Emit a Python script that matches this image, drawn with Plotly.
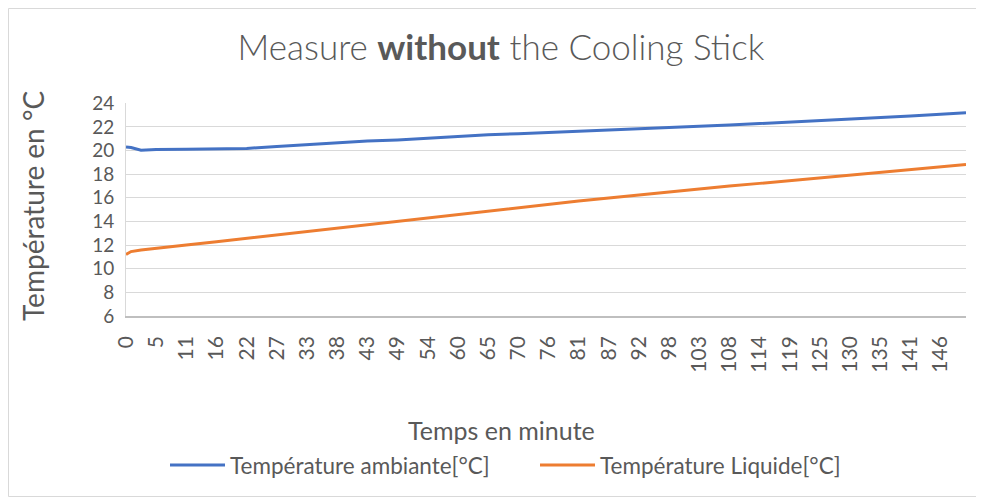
import plotly.graph_objects as go

# ---- data ----
time_min = [0, 0.9, 2.7, 5.42, 10.83, 16.25, 21.67, 27.08, 32.5, 37.92, 43.33, 48.75,
            54.17, 59.58, 65.0, 70.42, 75.83, 81.25, 86.67, 92.08, 97.5, 102.92,
            108.33, 113.75, 119.17, 124.58, 130.0, 135.42, 140.83, 146.25, 150.8]
temp_ambiante = [20.3, 20.25, 20.02, 20.08, 20.1, 20.13, 20.18, 20.35, 20.5, 20.68, 20.8, 20.9,
                 21.05, 21.2, 21.33, 21.42, 21.52, 21.62, 21.72, 21.8, 21.92, 22.03,
                 22.15, 22.28, 22.4, 22.53, 22.65, 22.78, 22.92, 23.07, 23.2]
temp_liquide = [11.2, 11.45, 11.58, 11.7, 12.0, 12.28, 12.57, 12.88, 13.17, 13.45, 13.73, 14.0,
                14.3, 14.6, 14.9, 15.18, 15.45, 15.72, 15.98, 16.25, 16.5, 16.75,
                17.0, 17.22, 17.45, 17.68, 17.9, 18.13, 18.35, 18.6, 18.82]

tick_times = [0, 5.42, 10.83, 16.25, 21.67, 27.08, 32.5, 37.92, 43.33, 48.75,
              54.17, 59.58, 65.0, 70.42, 75.83, 81.25, 86.67, 92.08, 97.5, 102.92,
              108.33, 113.75, 119.17, 124.58, 130.0, 135.42, 140.83, 146.25]
tick_labels = ["0", "5", "11", "16", "22", "27", "33", "38", "43", "49", "54", "60",
               "65", "70", "76", "81", "87", "92", "98", "103", "108", "114", "119",
               "125", "130", "135", "141", "146"]
y_ticks = [6, 8, 10, 12, 14, 16, 18, 20, 22, 24]

series_names = ["Température ambiante[°C]", "Température Liquide[°C]"]
series_colors = ["#4472C4", "#ED7D31"]

TXT = "#595959"
FONT = "Lato"

fig = go.Figure()
for name, vals, col in zip(series_names, [temp_ambiante, temp_liquide], series_colors):
    fig.add_trace(go.Scatter(x=time_min, y=vals, mode="lines", name=name,
                             line=dict(color=col, width=3), showlegend=False))

# page offset of the plot div (browser body margin)
O = 8
W, H = 976, 491
L, R, T, B = 118, 18, 95, 183
pw, ph = W - L - R, H - T - B

def px_x(page_x):
    return (page_x - O - L) / pw

def px_y(page_y):
    return (H - B - (page_y - O)) / ph

annotations = [
    dict(text="Temps en minute", xref="paper", yref="paper",
         x=px_x(501), y=px_y(430), xanchor="center", yanchor="middle",
         showarrow=False, font=dict(family=FONT, size=25, color=TXT)),
    dict(text="Température en °C", xref="paper", yref="paper",
         x=px_x(33), y=px_y(206), xanchor="center", yanchor="middle",
         textangle=-90, showarrow=False, font=dict(family=FONT, size=28, color=TXT)),
]
shapes = [
    dict(type="rect", xref="paper", yref="paper",
         x0=px_x(8.5), x1=px_x(980.5), y0=px_y(496.5), y1=px_y(8.5),
         line=dict(color="#D9D9D9", width=1), fillcolor="rgba(0,0,0,0)", layer="below"),
]
# legend (manual, Excel style long swatches)
legend_swatch_x = [(170, 225), (540, 595)]
for (x0, x1), name, col in zip(legend_swatch_x, series_names, series_colors):
    shapes.append(dict(type="line", xref="paper", yref="paper",
                       x0=px_x(x0), x1=px_x(x1), y0=px_y(465), y1=px_y(465),
                       line=dict(color=col, width=3)))
    annotations.append(dict(text=name, xref="paper", yref="paper",
                            x=px_x(x1 + 3), y=px_y(465), xanchor="left", yanchor="middle",
                            showarrow=False, font=dict(family=FONT, size=22.5, color=TXT)))

fig.update_layout(
    width=W, height=H,
    margin=dict(l=L, r=R, t=T, b=B),
    paper_bgcolor="white", plot_bgcolor="white",
    font=dict(family=FONT, color=TXT, size=20),
    showlegend=False,
    title=dict(text="Measure <b>without</b> the Cooling Stick",
               x=(501 - O) / W, xanchor="center", y=1 - (48 - O) / H, yanchor="middle",
               font=dict(family=FONT, size=35, color=TXT, weight=300)),
    xaxis=dict(range=[0, 150.8], tickvals=tick_times, ticktext=tick_labels,
               tickangle=-90, showgrid=False, zeroline=False,
               showline=True, linecolor="#BFBFBF", linewidth=1.5,
               ticks="", ticklabelstandoff=10,
               tickfont=dict(family=FONT, size=21, color=TXT)),
    yaxis=dict(range=[6, 24.02], tickvals=y_ticks,
               showgrid=True, gridcolor="#D9D9D9", gridwidth=1, zeroline=False,
               showline=True, linecolor="#D9D9D9", linewidth=1,
               ticks="", ticklabelstandoff=7,
               tickfont=dict(family=FONT, size=19, color=TXT)),
    annotations=annotations,
    shapes=shapes,
)

fig.write_html("out.html")
